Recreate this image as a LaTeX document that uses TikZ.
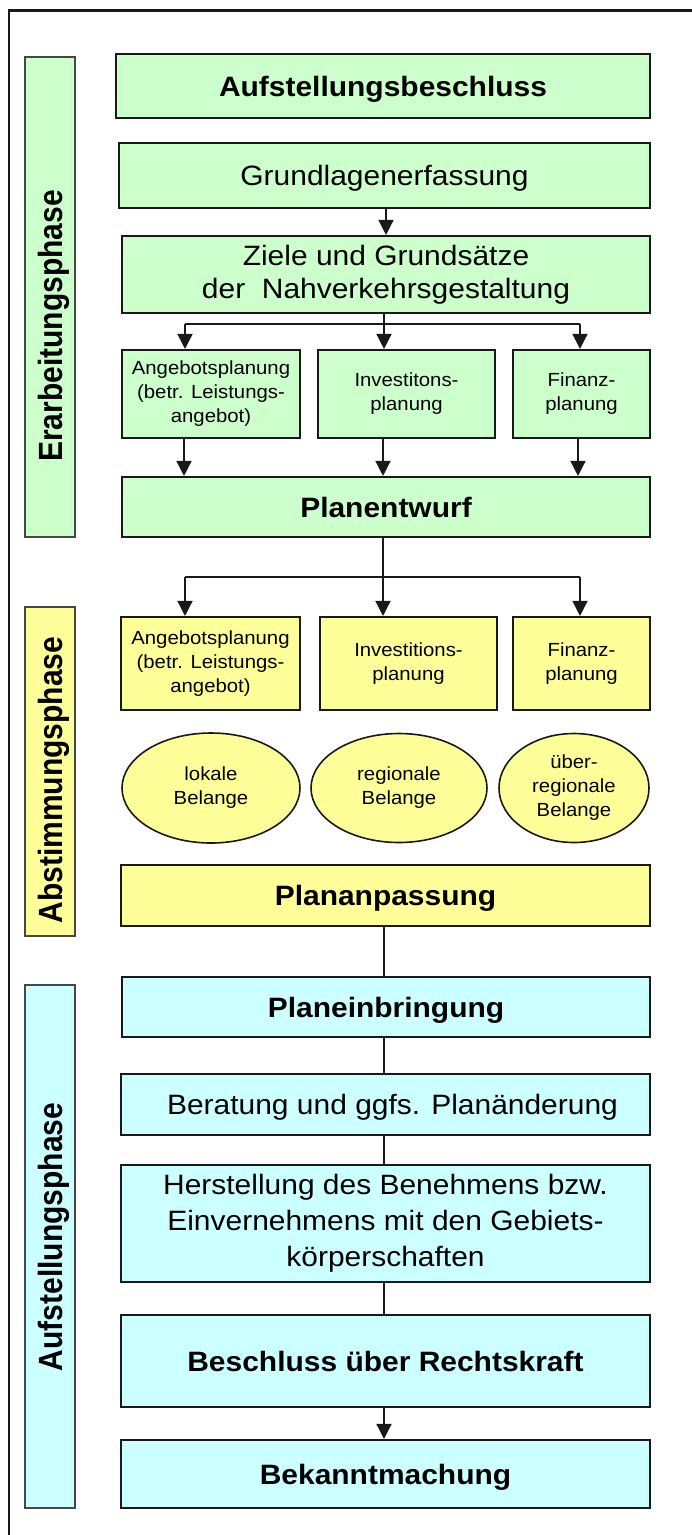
\documentclass[tikz,border=0pt]{standalone}
\usepackage{fontspec}
\setmainfont{Liberation Sans}[FakeStretch=1.07]
\newfontfamily\rotfont{Liberation Sans}
\usetikzlibrary{arrows.meta,shapes.geometric}
\definecolor{gfill}{RGB}{204,255,204}
\definecolor{yfill}{RGB}{255,255,153}
\definecolor{cfill}{RGB}{204,255,255}
\definecolor{edge}{RGB}{25,25,25}
\tikzset{
  box/.style={draw=edge, line width=2.1pt, inner sep=0pt, align=center},
  bigbox/.style={box, minimum width=529pt, font=\fontsize{28}{33}\selectfont},
  oneline/.style={text height=20pt, text depth=0pt},
  boldbox/.style={bigbox, oneline, font=\fontsize{28}{33}\selectfont\bfseries},
  smallbox/.style={box, minimum height=90pt, font=\fontsize{19}{24}\selectfont},
  oval/.style={draw=edge, line width=1.6pt, ellipse, inner sep=0pt, fill=yfill, align=center, font=\fontsize{19}{24}\selectfont},
  phasebar/.style={draw=edge!80, line width=1.6pt, minimum width=50pt, inner sep=0pt},
  phaselabel/.style={rotate=90, yscale=1.12, transform shape, anchor=base, font=\rotfont\fontsize{30}{30}\selectfont\bfseries},
  conn/.style={line width=1.4pt, draw=edge},
  arr/.style={conn, -{Triangle[length=15pt, width=15pt]}}
}
\begin{document}
\begin{tikzpicture}[x=1pt, y=-1pt]
\useasboundingbox (0,0) rectangle (692,1535);
% outer frame (top and left edges)
\draw[line width=2.2pt, draw=edge] (9,1535) -- (9,10.5) -- (692,10.5);

% phase bars
\node[phasebar, fill=gfill, minimum height=480pt] (ph1) at (50,297) {};
\node[phasebar, fill=yfill, minimum height=329pt] (ph2) at (50,771.5) {};
\node[phasebar, fill=cfill, minimum height=523pt] (ph3) at (50,1246.5) {};
\node[phaselabel] (l1) at (62,326) {Erarbeitungsphase};
\node[phaselabel] (l2) at (62,780) {Abstimmungsphase};
\node[phaselabel] (l3) at (62,1237) {Aufstellungsphase};

% green section
\node[boldbox, fill=gfill, minimum width=534pt, minimum height=64pt] (b1) at (383,86) {Aufstellungsbeschluss};
\node[bigbox, oneline, fill=gfill, minimum width=531pt, minimum height=65pt] (b2) at (384.5,175.5) {Grundlagenerfassung};
\node[bigbox, fill=gfill, minimum width=528pt, minimum height=77pt] (b3) at (386,274.5) {Ziele und Grundsätze\\der\ \ Nahverkehrsgestaltung};
\node[smallbox, fill=gfill, minimum width=178pt, minimum height=88pt] (s1) at (211,394) {Angebotsplanung\\(betr. Leistungs-\\angebot)};
\node[smallbox, fill=gfill, minimum width=177pt, minimum height=88pt] (s2) at (406.5,394) {Investitons-\\planung};
\node[smallbox, fill=gfill, minimum width=137pt, minimum height=88pt] (s3) at (581.5,394) {Finanz-\\planung};
\node[boldbox, fill=gfill, minimum width=528pt, minimum height=60pt] (p) at (386,507) {Planentwurf};

% yellow section
\node[smallbox, fill=yfill, minimum width=179pt, minimum height=93pt] (y1) at (210.5,663.5) {Angebotsplanung\\(betr. Leistungs-\\angebot)};
\node[smallbox, fill=yfill, minimum width=177pt, minimum height=93pt] (y2) at (408.5,663.5) {Investitions-\\planung};
\node[smallbox, fill=yfill, minimum width=137pt, minimum height=93pt] (y3) at (581.5,663.5) {Finanz-\\planung};
\node[oval, minimum width=178pt, minimum height=110pt] (e1) at (211,788) {lokale\\Belange};
\node[oval, minimum width=176pt, minimum height=109pt] (e2) at (399,788) {regionale\\Belange};
\node[oval, minimum width=150pt, minimum height=109pt] (e3) at (574,788) {über-\\regionale\\Belange};
\node[boldbox, fill=yfill, minimum height=61pt] (pa) at (385.5,895.5) {Plananpassung};

% cyan section
\node[boldbox, fill=cfill, minimum width=528pt, minimum height=60pt] (c1) at (386,1007) {Planeinbringung};
\node[bigbox, oneline, fill=cfill, minimum height=61pt] (c2) at (385.5,1104.5) {\hspace*{14pt}Beratung und ggfs. Planänderung};
\node[bigbox, fill=cfill, minimum height=117pt, font=\fontsize{28}{36}\selectfont] (c3) at (385.5,1223.5) {Herstellung des Benehmens bzw.\\Einvernehmens mit den Gebiets-\\körperschaften};
\node[boldbox, fill=cfill, minimum height=92pt] (c4) at (385.5,1361) {Beschluss über Rechtskraft};
\node[boldbox, fill=cfill, minimum height=68pt] (c5) at (385.5,1474) {Bekanntmachung};

% connectors, green part
\draw[arr] (b3.north |- b2.south) -- (b3.north);
\coordinate (j1) at (384,324);
\coordinate (j1l) at (185,324);
\coordinate (j1r) at (580,324);
\draw[conn] (j1 |- b3.south) -- (j1);
\draw[conn] (j1l) -- (j1r);
\draw[arr] (j1l) -- (j1l |- s1.north);
\draw[arr] (j1) -- (j1 |- s2.north);
\draw[arr] (j1r) -- (j1r |- s3.north);
\coordinate (k1) at (184,438);
\coordinate (k2) at (383,438);
\coordinate (k3) at (578,438);
\draw[arr] (k1 |- s1.south) -- (k1 |- p.north);
\draw[arr] (k2 |- s2.south) -- (k2 |- p.north);
\draw[arr] (k3 |- s3.south) -- (k3 |- p.north);

% connectors, yellow part
\coordinate (j2) at (383,577);
\coordinate (j2l) at (185,577);
\coordinate (j2r) at (580,577);
\draw[conn] (j2 |- p.south) -- (j2);
\draw[conn] (j2l) -- (j2r);
\draw[arr] (j2l) -- (j2l |- y1.north);
\draw[arr] (j2) -- (j2 |- y2.north);
\draw[arr] (j2r) -- (j2r |- y3.north);

% connectors, cyan part
\coordinate (m) at (384,0);
\draw[conn] (m |- pa.south) -- (m |- c1.north);
\draw[conn] (m |- c1.south) -- (m |- c2.north);
\draw[conn] (m |- c2.south) -- (m |- c3.north);
\draw[conn] (m |- c3.south) -- (m |- c4.north);
\draw[arr] (m |- c4.south) -- (m |- c5.north);
\end{tikzpicture}
\end{document}
